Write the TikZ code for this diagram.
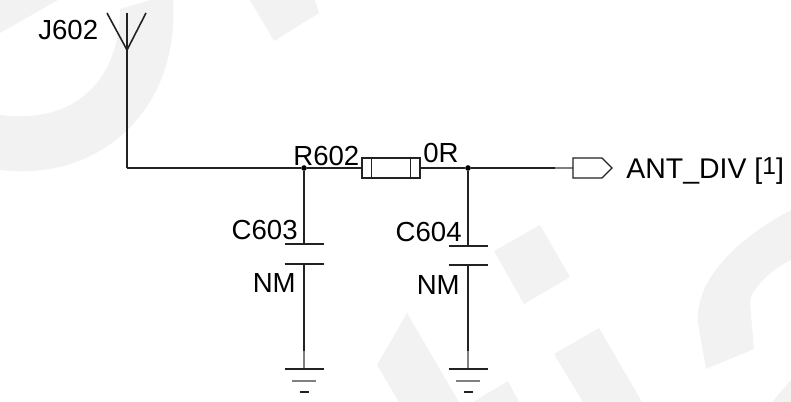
\documentclass[tikz,border=0pt]{standalone}
\usepackage{xcolor}
\usepackage{fontspec}
\setmainfont{Liberation Sans}
\definecolor{wmgray}{HTML}{F2F2F2}
\definecolor{wirecol}{HTML}{222222}
\tikzset{
  wire/.style={line width=0.9pt,wirecol},
  stub/.style={line width=0.9pt,gray},
  plate/.style={line width=0.7pt,wirecol},
  junction/.style={circle,fill=black,inner sep=0pt,minimum size=3.2pt},
  lbl/.style={inner sep=0pt,font=\fontsize{15.7}{18}\selectfont,text=black},
  resbody/.style={draw=wirecol,line width=0.7pt,rectangle,inner sep=0pt,minimum width=1.16cm,minimum height=0.4cm}
}
\begin{document}
\begin{tikzpicture}[x=0.02cm,y=-0.02cm]
  \useasboundingbox (0,0) rectangle (791,402);
  % watermark
  \fill[wmgray] (0,0) -- (58,0) -- (0,33) -- cycle;
  \fill[wmgray] (150,0) -- (120,9) .. controls (120,70) and (85,125) .. (0,115)
    -- (0,170) .. controls (100,182) and (180,110) .. (173,0) -- cycle;
  \fill[wmgray] (250,0) -- (315,0) -- (319,13) -- (274,41) -- cycle;
  \fill[wmgray] (540,225) -- (570,277) -- (524,304) -- (494,251) -- cycle;
  \fill[wmgray] (407,313) -- (377,365) -- (399,402) -- (459,402) -- cycle;
  \fill[wmgray] (473,402) -- (508,381) -- (519,402) -- cycle;
  \fill[wmgray] (599,328) -- (554,354) -- (583,402) -- (642,402) -- cycle;
  \fill[wmgray] (791,210) .. controls (735,240) and (695,280) .. (698,323)
    -- (706,369) -- (754,349) -- (750,303) .. controls (750,290) and (770,270) .. (791,260) -- cycle;
  \fill[wmgray] (791,380) -- (772,402) -- (791,402) -- cycle;

  % antenna
  \coordinate (ant) at (127,50);
  \coordinate (anttop) at (127,13);
  \coordinate (antcorner) at (127,168);
  \draw[wire] (ant) -- (107,13);
  \draw[wire] (ant) -- (146,13);
  \draw[wire] (anttop) -- (ant) -- (antcorner);
  \node[lbl,anchor=base west] (J602) at (38,40) {J602};

  % series part
  \node[junction] (j603) at (304,168) {};
  \node[junction] (j604) at (468,168) {};
  \node[resbody] (R602) at (391,168) {};
  \draw[plate] ([xshift=0.2cm]R602.north west) -- ([xshift=0.2cm]R602.south west);
  \draw[plate] ([xshift=-0.2cm]R602.north east) -- ([xshift=-0.2cm]R602.south east);
  \draw[wire] (antcorner) -- (j603) -- (R602);
  \draw[wire] (R602) -- (j604);
  \node[lbl,anchor=base west] (rname) at (293,165) {R602};
  \node[lbl,anchor=base west] (rval) at (423,162) {0R};

  % port
  \coordinate (wireend) at (555,168);
  \coordinate (portin) at (573,168);
  \draw[wire] (j604) -- (wireend);
  \draw[stub] (wireend) -- (portin);
  \draw[plate] (portin) -- (573,158) -- (602,158) -- (612,168) -- (602,178) -- (573,178) -- cycle;
  \node[lbl,anchor=base west,font=\fontsize{16.2}{18}\selectfont] (portname) at (626,178) {ANT\_DIV [\raisebox{1.8pt}{\fontsize{14}{16}\selectfont 1}]};

  % caps and grounds
  \foreach \id/\cx/\pa/\pb/\na/\nb in {603/304/244/264/239/292, 604/468/246/265/241/294} {
    \coordinate (top\id) at (\cx,\pa);
    \coordinate (bot\id) at (\cx,\pb);
    \coordinate (dark\id) at (\cx,351);
    \coordinate (gnd\id) at (\cx,369);
    \draw[wire] (j\id) -- (top\id);
    \draw[wire] (bot\id) -- (dark\id);
    \draw[stub] (dark\id) -- (gnd\id);
    \draw[plate] (\cx-19.5,\pa) -- (\cx+19.5,\pa);
    \draw[plate] (\cx-19.5,\pb) -- (\cx+19.5,\pb);
    \draw[plate] (\cx-19.5,369) -- (\cx+19.5,369);
    \draw[plate,gray] (\cx-12,381) -- (\cx+12,381);
    \draw[plate] (\cx-4.5,392) -- (\cx+4.5,392);
    \node[lbl,anchor=base east] (C\id) at (\cx-6,\na) {C\id};
    \node[lbl,anchor=base east] (NM\id) at (\cx-8,\nb) {NM};
  }
\end{tikzpicture}
\end{document}
